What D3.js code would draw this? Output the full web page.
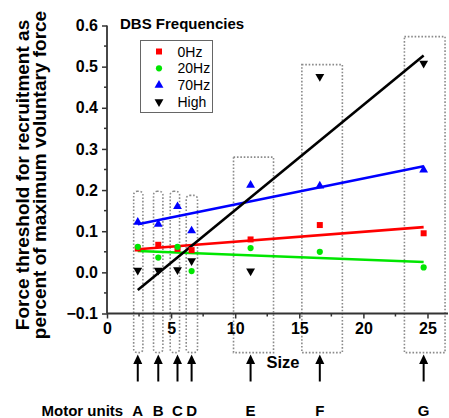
<!DOCTYPE html>
<html>
<head>
<meta charset="utf-8">
<script src="https://cdn.jsdelivr.net/npm/d3@7"></script>
<style>
  html, body { margin: 0; padding: 0; background: #fff; }
  svg { display: block; font-family: Arial, "Liberation Sans", sans-serif; }
</style>
</head>
<body>
<svg id="chart" width="449" height="418"></svg>
<script>
// Motor units and their size (x position)
const units = ["A", "B", "C", "D", "E", "F", "G"];
const unitSize = [2.4, 4.0, 5.5, 6.6, 11.2, 16.6, 24.7];

// Recruitment thresholds per DBS frequency
const seriesNames = ["0Hz", "20Hz", "70Hz", "High"];
const thr0Hz  = [0.058, 0.067, 0.057, 0.054, 0.080, 0.115, 0.095];
const thr20Hz = [0.062, 0.036, 0.062, 0.003, 0.059, 0.050, 0.012];
const thr70Hz = [0.122, 0.117, 0.160, 0.101, 0.212, 0.210, 0.249];
const thrHigh = [0.005, 0.005, 0.006, 0.028, 0.003, 0.476, 0.508];

// Linear fit values at the first and last motor unit
const fitStart = [0.056, 0.052, 0.117, -0.043];
const fitEnd   = [0.110, 0.025, 0.258, 0.527];

// Dotted group boxes around each motor unit (size range and top threshold)
const boxLeft  = [2.08, 3.63, 4.93, 6.18, 9.87, 15.2, 23.2];
const boxRight = [2.80, 4.36, 5.66, 7.06, 12.99, 18.36, 26.37];
const boxTop   = [0.197, 0.197, 0.197, 0.187, 0.28, 0.505, 0.573];
const boxBottom = -0.195;

// Axis ticks
const xTicks = [0, 5, 10, 15, 20, 25];
const yTicks = [-0.1, 0.0, 0.1, 0.2, 0.3, 0.4, 0.5, 0.6];

const colors = ["#ff0000", "#00e600", "#0000ff", "#000000"];
const symbols = [d3.symbolSquare, d3.symbolCircle, d3.symbolTriangle, d3.symbolTriangle];
const symSizes = [36, 30, 34, 34];
const symRotate = [0, 0, 0, 180];
const seriesValues = [thr0Hz, thr20Hz, thr70Hz, thrHigh];

const svg = d3.select("#chart");

const x = d3.scaleLinear().domain([0, 26.6]).range([107, 448]);
const y = d3.scaleLinear().domain([-0.1, 0.6]).range([313.5, 25.5]);

// Dotted boxes
const boxes = svg.append("g");
units.forEach((u, i) => {
  const narrow = (boxRight[i] - boxLeft[i]) < 1.5;
  boxes.append("rect")
    .attr("x", x(boxLeft[i]))
    .attr("y", y(boxTop[i]))
    .attr("width", x(boxRight[i]) - x(boxLeft[i]))
    .attr("height", y(boxBottom) - y(boxTop[i]))
    .attr("rx", narrow ? 3.5 : 0)
    .attr("fill", "none")
    .attr("stroke", "#8a8a8a")
    .attr("stroke-width", 1.6)
    .attr("stroke-dasharray", "1.6,1.8");
});

// Axes
const xAxis = d3.axisBottom(x).tickValues(xTicks).tickSize(5).tickPadding(4).tickFormat(d3.format("d"));
const yAxis = d3.axisLeft(y).tickValues(yTicks).tickSize(5).tickPadding(4).tickFormat(d3.format(".1f"));

const gx = svg.append("g").attr("transform", `translate(0,${y(-0.1)})`).call(xAxis);
const gy = svg.append("g").attr("transform", `translate(${x(0)},0)`).call(yAxis);

[gx, gy].forEach(g => {
  g.select(".domain").attr("stroke", "#333").attr("stroke-width", 1.8);
  g.selectAll(".tick line").attr("stroke", "#333").attr("stroke-width", 1.5);
  g.selectAll(".tick text")
    .attr("fill", "#000")
    .attr("font-size", 16)
    .attr("font-weight", "bold")
    .attr("font-family", "Arial, 'Liberation Sans', sans-serif");
});
gx.select(".domain").attr("d", `M${x(0)},0H${x(26.6)}`);
gy.select(".domain").attr("d", `M0,${y(-0.1)}V${y(0.6)}`);

// Minor ticks
const xMinor = d3.range(2.5, 26, 5);
const yMinor = d3.range(-0.05, 0.6, 0.1);
svg.append("g").selectAll("line").data(xMinor).join("line")
  .attr("x1", d => x(d)).attr("x2", d => x(d))
  .attr("y1", y(-0.1)).attr("y2", y(-0.1) + 3)
  .attr("stroke", "#333").attr("stroke-width", 1.5);
svg.append("g").selectAll("line").data(yMinor).join("line")
  .attr("x1", x(0) - 3).attr("x2", x(0))
  .attr("y1", d => y(d)).attr("y2", d => y(d))
  .attr("stroke", "#333").attr("stroke-width", 1.5);

// Fit lines
const line = d3.line().x(d => x(d[0])).y(d => y(d[1]));
seriesNames.forEach((s, k) => {
  svg.append("path")
    .datum([[unitSize[0], fitStart[k]], [unitSize[unitSize.length - 1], fitEnd[k]]])
    .attr("d", line)
    .attr("fill", "none")
    .attr("stroke", colors[k])
    .attr("stroke-width", 2.6);
});

// Markers
seriesNames.forEach((s, k) => {
  const sym = d3.symbol().type(symbols[k]).size(symSizes[k]);
  svg.append("g").selectAll("path").data(seriesValues[k]).join("path")
    .attr("d", sym)
    .attr("transform", (d, i) => `translate(${x(unitSize[i])},${y(d)}) rotate(${symRotate[k]})`)
    .attr("fill", colors[k]);
});

// Legend
svg.append("text")
  .attr("x", 120).attr("y", 28.5)
  .attr("font-size", 15).attr("font-weight", "bold")
  .text("DBS Frequencies");
svg.append("rect")
  .attr("x", 140.5).attr("y", 40.5).attr("width", 72).attr("height", 72)
  .attr("fill", "#fff").attr("stroke", "#666").attr("stroke-width", 1);
seriesNames.forEach((s, k) => {
  const cy = 51.5 + k * 16.8;
  svg.append("path")
    .attr("d", d3.symbol().type(symbols[k]).size(symSizes[k])())
    .attr("transform", `translate(159,${cy}) rotate(${symRotate[k]})`)
    .attr("fill", colors[k]);
  svg.append("text")
    .attr("x", 177.5).attr("y", cy + 5)
    .attr("font-size", 14)
    .text(s);
});

// Y axis title
const yTitle = ["Force threshold for recruitment as", "percent of maximum voluntary force"];
yTitle.forEach((t, i) => {
  svg.append("text")
    .attr("transform", `translate(${29 + i * 17},175) rotate(-90)`)
    .attr("text-anchor", "middle")
    .attr("font-size", 19).attr("font-weight", "bold")
    .text(t);
});

// X axis title
svg.append("text")
  .attr("x", 283).attr("y", 367.5)
  .attr("text-anchor", "middle")
  .attr("font-size", 16.5).attr("font-weight", "bold")
  .text("Size");

// Arrows pointing at each motor unit group
const arrows = svg.append("g");
units.forEach((u, i) => {
  const ax = x(unitSize[i]);
  arrows.append("line")
    .attr("x1", ax).attr("x2", ax)
    .attr("y1", 381.5).attr("y2", 362)
    .attr("stroke", "#000").attr("stroke-width", 2);
  arrows.append("path")
    .attr("d", `M${ax},354.5L${ax - 4.5},364L${ax + 4.5},364Z`)
    .attr("fill", "#000");
  arrows.append("text")
    .attr("x", ax).attr("y", 415.5)
    .attr("text-anchor", "middle")
    .attr("font-size", 15).attr("font-weight", "bold")
    .text(u);
});
svg.append("text")
  .attr("x", 41.5).attr("y", 415.5)
  .attr("font-size", 15).attr("font-weight", "bold")
  .text("Motor units");
</script>
</body>
</html>
